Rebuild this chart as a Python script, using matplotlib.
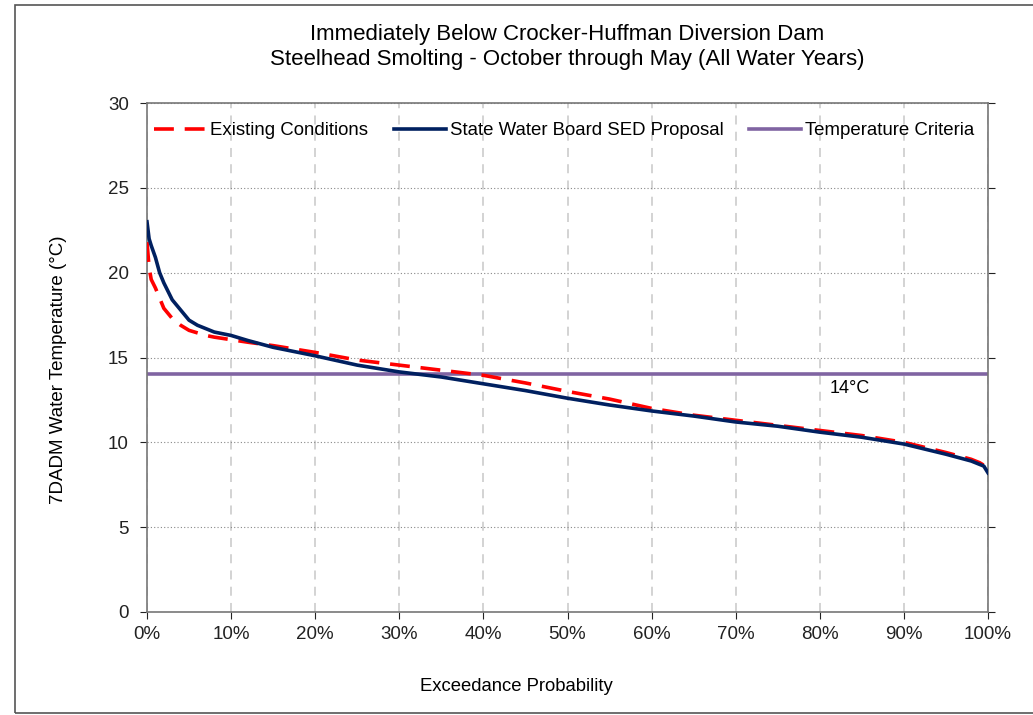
import numpy as np
import matplotlib
matplotlib.use('Agg')
import matplotlib.pyplot as plt
from matplotlib.patches import Rectangle
from matplotlib.ticker import PercentFormatter

plt.rcParams['font.family'] = ['Liberation Sans', 'DejaVu Sans']

#========================= Data ======================
exceed = [0, 0.25, 0.5, 1, 1.5, 2, 3, 4, 5, 6, 7, 8, 10, 12, 15, 20, 25, 30,
          35, 40, 45, 50, 55, 60, 65, 70, 75, 80, 85, 90, 95, 98, 99, 99.5, 100]
existing = [21.8, 20.3, 19.6, 19.1, 18.5, 17.9, 17.3, 16.9, 16.6, 16.45, 16.3,
            16.2, 16.05, 15.9, 15.7, 15.3, 14.85, 14.55, 14.25, 13.95, 13.5,
            13.0, 12.55, 12.0, 11.6, 11.3, 11.0, 10.7, 10.4, 10.0, 9.4, 9.0,
            8.8, 8.65, 8.5]
sed = [23.0, 22.0, 21.6, 20.9, 20.0, 19.4, 18.4, 17.8, 17.2, 16.9, 16.7, 16.5,
       16.3, 16.0, 15.6, 15.1, 14.55, 14.15, 13.85, 13.45, 13.05, 12.6, 12.2,
       11.85, 11.55, 11.2, 10.95, 10.6, 10.3, 9.9, 9.3, 8.9, 8.7, 8.6, 8.2]
criteria = 14
series_names = ['Existing Conditions', 'State Water Board SED Proposal',
                'Temperature Criteria']

#========================= Plot ===============================================
fig = plt.figure(figsize=(10.33, 7.15), dpi=100)
fig.patches.append(Rectangle((15 / 1033, 2 / 715), 1.1, 708 / 715,
                             transform=fig.transFigure, fill=False,
                             edgecolor='#555555', lw=1.2))
ax = fig.add_axes([147 / 1033, 1 - 612 / 715, 841 / 1033, 509 / 715])

ax.plot(exceed, existing, color='#FF0000', lw=2.6, ls=(0, (5.5, 3)),
        label=series_names[0], zorder=3)
ax.plot(exceed, sed, color='#002060', lw=2.6, label=series_names[1], zorder=4)
ax.axhline(criteria, color='#8064A2', lw=2.6, label=series_names[2], zorder=2)
ax.text(81.2, 13.2, '14°C', fontsize=13, ha='left', va='center')

ax.set_xlim(0, 100)
ax.set_ylim(0, 30)
ax.set_xticks(np.arange(0, 101, 10))
ax.set_yticks(np.arange(0, 31, 5))
ax.xaxis.set_major_formatter(PercentFormatter(decimals=0))
ax.tick_params(axis='both', labelsize=13.5, colors='#222222', length=5,
               direction='out')
ax.tick_params(axis='y', right=True, pad=8)
ax.tick_params(axis='x', pad=5)

ax.xaxis.grid(True, color='#d0d0d0', ls=(0, (5, 4)), lw=1.3)
ax.yaxis.grid(True, color='#888888', ls=(0, (1, 2)), lw=0.8)
ax.set_axisbelow(True)
for s in ax.spines.values():
    s.set_color('#777777')
    s.set_linewidth(1.2)

ax.set_xlabel('Exceedance Probability', fontsize=13.3)
ax.xaxis.set_label_coords(0.439, -0.13)
ax.set_ylabel('7DADM Water Temperature (°C)', fontsize=13.5)
ax.yaxis.set_label_coords(-0.095, 0.475)
ax.set_title('Immediately Below Crocker-Huffman Diversion Dam\n'
             'Steelhead Smolting - October through May (All Water Years)',
             fontsize=16, pad=27, linespacing=1.3)

ax.legend(loc='upper center', ncol=3, frameon=False, fontsize=13.4,
          bbox_to_anchor=(0.496, 0.995), handlelength=2.8, columnspacing=1.4,
          handletextpad=0.2)

fig.savefig('out.png', dpi=100)
